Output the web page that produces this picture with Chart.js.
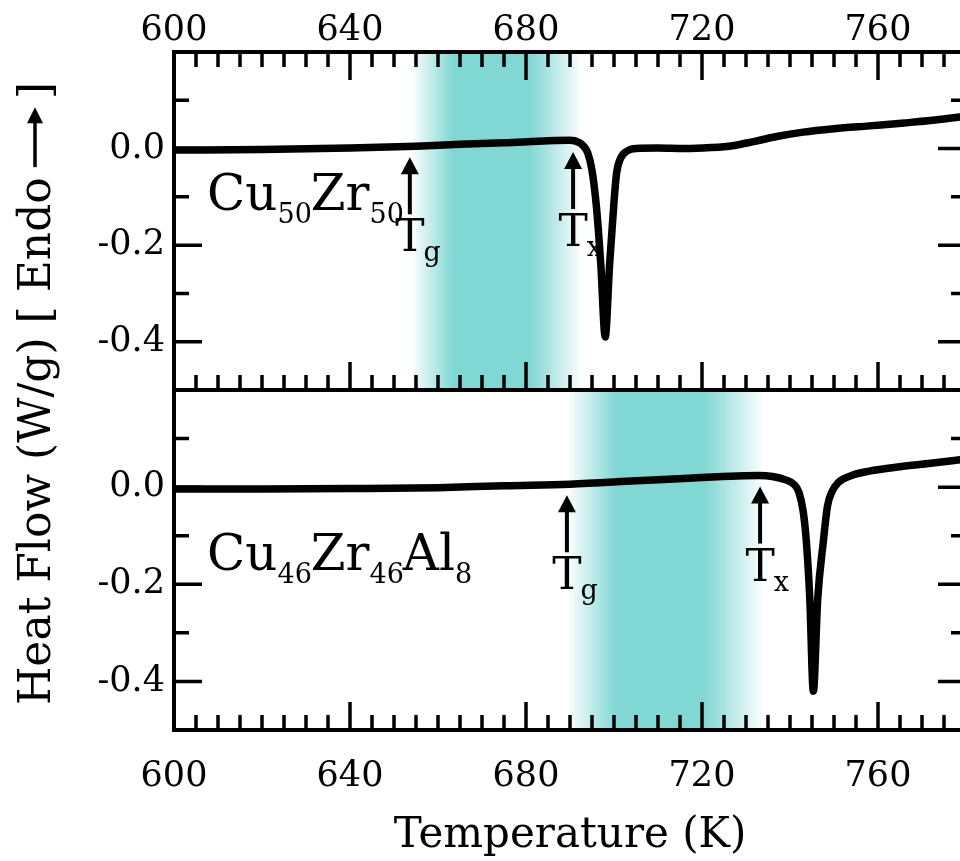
<!DOCTYPE html>
<html>
<head>
<meta charset="utf-8">
<script src="https://cdn.jsdelivr.net/npm/chart.js@4"></script>
<style>
  html, body { margin: 0; padding: 0; overflow: hidden; background: #fff; }
  #wrap { position: relative; width: 975px; height: 861px; }
  #wrap canvas { position: absolute; left: 0; top: 0; }
</style>
</head>
<body>
<div id="wrap">
  <canvas id="topPanel" width="975" height="861"></canvas>
  <canvas id="bottomPanel" width="975" height="861"></canvas>
</div>
<script>
// tick labels
const xTicks = [600, 640, 680, 720, 760];
const yTicks = [0, -0.2, -0.4];

// Cu50Zr50 DSC trace
const temps1 = [600, 620, 640, 655, 665, 675, 685, 690, 692, 693, 694, 695, 696, 697, 698, 699, 700, 700.6, 701.5, 703, 705, 710, 716, 722, 727, 732, 737, 743, 750, 758, 766, 773, 780];
const flow1 = [-0.003, -0.002, 0.001, 0.005, 0.009, 0.012, 0.016, 0.017, 0.013, 0.006, -0.008, -0.045, -0.12, -0.24, -0.39, -0.24, -0.11, -0.05, -0.02, -0.005, 0.0, 0.001, 0.0, 0.002, 0.006, 0.015, 0.025, 0.034, 0.041, 0.047, 0.053, 0.059, 0.067];

// Cu46Zr46Al8 DSC trace
const temps2 = [600, 620, 640, 660, 675, 690, 705, 718, 728, 733, 736, 739, 741, 742, 743, 743.7, 744.5, 745.3, 746.3, 747.6, 748.5, 749.5, 751, 754, 758, 765, 772, 780];
const flow2 = [-0.004, -0.004, -0.003, -0.001, 0.003, 0.006, 0.013, 0.019, 0.023, 0.024, 0.022, 0.015, 0.005, -0.01, -0.05, -0.11, -0.23, -0.42, -0.23, -0.11, -0.04, -0.01, 0.01, 0.024, 0.033, 0.042, 0.049, 0.058];

// alloy names (element, subscript)
const alloy1 = [["Cu", "50"], ["Zr", "50"]];
const alloy2 = [["Cu", "46"], ["Zr", "46"], ["Al", "8"]];

// glass transition / crystallisation temperatures and shaded windows
const tg = [653.6, 689.3];
const tx = [690.7, 733.2];
const bandFrom = [654.3, 690];
const bandTo = [692.3, 733.6];

const temps = [temps1, temps2];
const flows = [flow1, flow2];
const alloys = [alloy1, alloy2];

Chart.defaults.font.family = "'DejaVu Serif', serif";
Chart.defaults.color = "#000";

const FONT = "'DejaVu Serif', serif";
const TEAL = "129,215,212";

function valueAt(ts, fs, t) {
  for (let k = 1; k < ts.length; k++) {
    if (t <= ts[k]) {
      const f = (t - ts[k - 1]) / (ts[k] - ts[k - 1]);
      return fs[k - 1] + f * (fs[k] - fs[k - 1]);
    }
  }
  return fs[fs.length - 1];
}

function drawTLabel(ctx, x, tipY, sub) {
  // arrow
  ctx.beginPath();
  ctx.moveTo(x, tipY + 12);
  ctx.lineTo(x, tipY + 57);
  ctx.lineWidth = 4;
  ctx.stroke();
  ctx.beginPath();
  ctx.moveTo(x, tipY);
  ctx.lineTo(x - 9, tipY + 17);
  ctx.lineTo(x + 9, tipY + 17);
  ctx.closePath();
  ctx.fill();
  // T with subscript
  ctx.font = "44px " + FONT;
  ctx.textAlign = "center";
  ctx.textBaseline = "alphabetic";
  ctx.fillText("T", x, tipY + 94);
  const w = ctx.measureText("T").width;
  ctx.font = "27px " + FONT;
  ctx.textAlign = "left";
  ctx.fillText(sub, x + w / 2 - 1, tipY + 104);
}

function drawFormula(ctx, parts, x, y) {
  ctx.textAlign = "left";
  ctx.textBaseline = "alphabetic";
  for (const [el, n] of parts) {
    ctx.font = "50px " + FONT;
    ctx.fillText(el, x, y);
    x += ctx.measureText(el).width;
    ctx.font = "27px " + FONT;
    ctx.fillText(n, x, y + 13);
    x += ctx.measureText(n).width - 1;
  }
}

function decor(i) {
  return {
    id: "decor" + i,
    beforeDatasetsDraw(chart) {
      const { ctx, chartArea: a, scales: { x } } = chart;
      const x0 = x.getPixelForValue(bandFrom[i]);
      const x1 = x.getPixelForValue(bandTo[i]);
      const g = ctx.createLinearGradient(x0, 0, x1, 0);
      g.addColorStop(0, "rgba(" + TEAL + ",0.06)");
      g.addColorStop(0.24, "rgba(" + TEAL + ",1)");
      g.addColorStop(0.7, "rgba(" + TEAL + ",1)");
      g.addColorStop(1, "rgba(" + TEAL + ",0.06)");
      ctx.save();
      ctx.fillStyle = g;
      ctx.fillRect(x0, a.top, x1 - x0, a.bottom - a.top);
      ctx.restore();
    },
    afterDatasetsDraw(chart) {
      const { ctx, chartArea: a, scales: { x, y } } = chart;
      ctx.save();
      ctx.strokeStyle = "#000";
      ctx.fillStyle = "#000";

      // frame
      ctx.lineWidth = 4;
      ctx.strokeRect(a.left, a.top, a.right - a.left, a.bottom - a.top);

      // inward ticks
      ctx.lineWidth = 3.5;
      ctx.beginPath();
      for (let v = 600; v <= 780; v += 5) {
        const px = x.getPixelForValue(v);
        const len = (v - 600) % 40 === 0 ? 28 : 15;
        ctx.moveTo(px, a.bottom);
        ctx.lineTo(px, a.bottom - len);
        if (i === 0) {
          ctx.moveTo(px, a.top);
          ctx.lineTo(px, a.top + len);
        }
      }
      for (let k = -5; k <= 2; k++) {
        const py = y.getPixelForValue(k / 10);
        const len = k % 2 === 0 ? 28 : 15;
        ctx.moveTo(a.left, py);
        ctx.lineTo(a.left + len, py);
        ctx.moveTo(a.right, py);
        ctx.lineTo(a.right - len, py);
      }
      ctx.stroke();

      // Tg / Tx markers
      const tgY = y.getPixelForValue(valueAt(temps[i], flows[i], tg[i])) + 11;
      const txY = y.getPixelForValue(valueAt(temps[i], flows[i], tx[i])) + 11;
      drawTLabel(ctx, x.getPixelForValue(tg[i]), tgY, "g");
      drawTLabel(ctx, x.getPixelForValue(tx[i]), txY, "x");

      // alloy name
      drawFormula(ctx, alloys[i], a.left + 33, i === 0 ? 210 : 570);

      // y axis title spanning both panels
      if (i === 0) {
        ctx.translate(50, 705);
        ctx.rotate(-Math.PI / 2);
        ctx.font = "44px " + FONT;
        ctx.textAlign = "left";
        ctx.textBaseline = "alphabetic";
        const s = "Heat Flow (W/g) [ Endo";
        ctx.fillText(s, 0, 0);
        const w = ctx.measureText(s).width;
        const a0 = w + 10, a1 = a0 + 60;
        ctx.lineWidth = 3.5;
        ctx.beginPath();
        ctx.moveTo(a0, -15);
        ctx.lineTo(a1 - 12, -15);
        ctx.stroke();
        ctx.beginPath();
        ctx.moveTo(a1, -15);
        ctx.lineTo(a1 - 16, -23);
        ctx.lineTo(a1 - 16, -7);
        ctx.closePath();
        ctx.fill();
        ctx.fillText(" ]", a1 - 6, 0);
      }
      ctx.restore();
    }
  };
}

function makeChart(id, i) {
  const isTop = i === 0;
  return new Chart(document.getElementById(id), {
    type: "line",
    data: {
      datasets: [{
        data: temps[i].map((t, k) => ({ x: t, y: flows[i][k] })),
        borderColor: "#000",
        borderWidth: 7.5,
        pointRadius: 0,
        fill: false,
        cubicInterpolationMode: "monotone",
        borderJoinStyle: "round",
        borderCapStyle: "round"
      }]
    },
    options: {
      responsive: false,
      animation: false,
      devicePixelRatio: 1,
      layout: { padding: { left: 0, right: 9, top: isTop ? 0 : 390, bottom: isTop ? 471 : 0 } },
      plugins: { legend: { display: false }, tooltip: { enabled: false } },
      scales: {
        x: {
          type: "linear",
          position: isTop ? "top" : "bottom",
          min: 600,
          max: 780,
          grid: { display: false, drawTicks: false },
          border: { display: false },
          ticks: { autoSkip: false, maxRotation: 0, padding: isTop ? 0 : 26, font: { size: 35 }, color: "#000" },
          afterBuildTicks: s => { s.ticks = xTicks.map(v => ({ value: v })); },
          afterFit: s => { s.height = isTop ? 52 : 131; },
          title: {
            display: !isTop,
            text: "Temperature (K)",
            color: "#000",
            font: { size: 42 },
            padding: { top: 0, bottom: 0 }
          }
        },
        y: {
          min: -0.5,
          max: 0.2,
          grid: { display: false, drawTicks: false },
          border: { display: false },
          ticks: { padding: 9, font: { size: 35 }, color: "#000", callback: v => v.toFixed(1) },
          afterBuildTicks: s => { s.ticks = yTicks.map(v => ({ value: v })); },
          afterFit: s => { s.width = 174; }
        }
      }
    },
    plugins: [decor(i)]
  });
}

makeChart("topPanel", 0);
makeChart("bottomPanel", 1);
</script>
</body>
</html>
